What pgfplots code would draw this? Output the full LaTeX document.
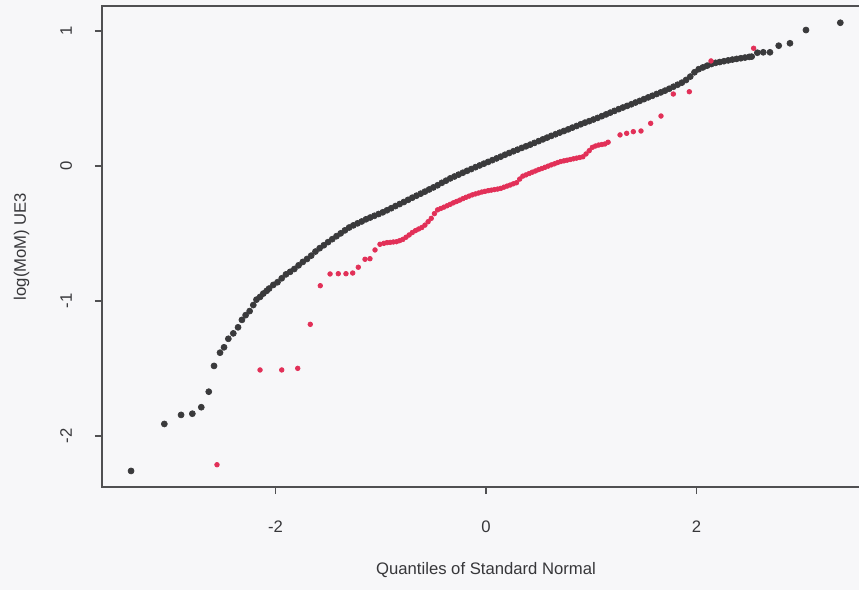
\documentclass[border=0pt]{standalone}
\usepackage{fontspec}
\setmainfont{Liberation Sans}
\usepackage{pgfplots}
\pgfplotsset{compat=1.18}
\usetikzlibrary{backgrounds}
\definecolor{ptblack}{RGB}{58,58,60}
\definecolor{ptred}{RGB}{226,48,88}
\definecolor{axgray}{RGB}{80,80,82}
\definecolor{txtgray}{RGB}{55,55,58}
\definecolor{bg}{RGB}{247,247,249}
\begin{document}
\begin{tikzpicture}
\begin{axis}[
  scale only axis,
  width=460.8pt, height=288.6pt,
  xmin=-3.647, xmax=3.647,
  ymin=-2.378, ymax=1.185,
  xtick={-2,0,2}, ytick={-2,-1,0,1},
  tick align=outside, tick pos=left,
  major tick length=4.2pt,
  axis line style={axgray, line width=0.9pt},
  every tick/.style={axgray, line width=0.9pt},
  /pgf/number format/assume math mode=true,
  ticklabel style={font=\fontsize{10}{12}\selectfont, text=txtgray},
  xticklabel style={anchor=base, inner sep=0pt, yshift=-22.8pt},
  yticklabel style={xshift=-13.8pt, anchor=base, inner sep=0pt, rotate=90},
  xlabel={Quantiles of Standard Normal},
  ylabel={log(MoM) UE3},
  label style={font=\fontsize{10}{12}\selectfont, text=txtgray},
  xlabel style={at={(axis description cs:0.5,-0.181)}, anchor=base, inner sep=0pt},
  ylabel style={at={(axis description cs:-0.099,0.5)}, anchor=base, inner sep=0pt},
  clip=false,
]
\addplot[ptblack, only marks, mark=*, mark size=1.8pt] coordinates {
(-3.371,-2.259)(-3.055,-1.911)(-2.896,-1.844)(-2.789,-1.835)(-2.704,-1.787)(-2.633,-1.672)
(-2.583,-1.481)(-2.526,-1.383)(-2.488,-1.343)(-2.447,-1.280)(-2.400,-1.240)(-2.355,-1.195)
(-2.318,-1.140)(-2.283,-1.105)(-2.245,-1.075)(-2.210,-1.030)(-2.180,-0.990)(-2.146,-0.970)
(-2.115,-0.945)(-2.083,-0.925)
(-2.06,-0.908)(-2.02,-0.881)(-1.98,-0.861)(-1.94,-0.832)(-1.90,-0.803)(-1.86,-0.784)
(-1.82,-0.763)(-1.78,-0.736)(-1.74,-0.711)(-1.70,-0.689)(-1.66,-0.664)(-1.62,-0.634)
(-1.58,-0.609)(-1.54,-0.587)(-1.50,-0.564)(-1.46,-0.542)(-1.42,-0.520)(-1.38,-0.499)
(-1.34,-0.477)(-1.30,-0.456)(-1.26,-0.440)(-1.22,-0.425)(-1.18,-0.411)(-1.14,-0.395)
(-1.10,-0.382)(-1.06,-0.369)(-1.02,-0.356)(-0.98,-0.343)(-0.94,-0.328)(-0.90,-0.313)
(-0.86,-0.297)(-0.82,-0.282)(-0.78,-0.267)(-0.74,-0.251)(-0.70,-0.235)(-0.66,-0.220)
(-0.62,-0.205)(-0.58,-0.190)(-0.54,-0.174)(-0.50,-0.159)(-0.46,-0.143)(-0.42,-0.125)
(-0.38,-0.109)(-0.34,-0.092)(-0.30,-0.078)(-0.26,-0.064)(-0.22,-0.050)(-0.18,-0.036)
(-0.14,-0.023)(-0.10,-0.009)(-0.06,0.004)(-0.02,0.017)(0.02,0.030)(0.06,0.043)
(0.10,0.056)(0.14,0.069)(0.18,0.083)(0.22,0.096)(0.26,0.109)(0.30,0.121)
(0.34,0.134)(0.38,0.146)(0.42,0.158)(0.46,0.171)(0.50,0.184)(0.54,0.197)
(0.58,0.210)(0.62,0.223)(0.66,0.235)(0.70,0.247)(0.74,0.259)(0.78,0.271)
(0.82,0.284)(0.86,0.296)(0.90,0.309)(0.94,0.321)(0.98,0.332)(1.02,0.344)
(1.06,0.356)(1.10,0.369)(1.14,0.382)(1.18,0.395)(1.22,0.408)(1.26,0.421)
(1.30,0.433)(1.34,0.445)(1.38,0.457)(1.42,0.470)(1.46,0.482)(1.50,0.495)
(1.54,0.508)(1.58,0.520)(1.62,0.533)(1.66,0.545)(1.70,0.558)(1.74,0.572)
(1.78,0.587)(1.82,0.602)(1.86,0.617)(1.90,0.637)(1.94,0.662)(1.98,0.694)
(2.02,0.717)(2.06,0.730)(2.10,0.743)(2.14,0.755)(2.18,0.764)(2.22,0.770)
(2.26,0.776)(2.30,0.782)(2.34,0.788)(2.38,0.793)(2.42,0.798)(2.46,0.803)
(2.50,0.808)
(2.523,0.810)(2.577,0.839)(2.633,0.842)(2.697,0.842)(2.780,0.891)(2.887,0.909)
(3.039,1.007)(3.365,1.061)
};
\addplot[ptred, only marks, mark=*, mark size=1.4pt] coordinates {
(-2.555,-2.213)(-2.146,-1.511)(-1.940,-1.511)(-1.788,-1.499)(-1.669,-1.173)(-1.574,-0.887)
(-1.481,-0.800)(-1.403,-0.798)(-1.330,-0.798)(-1.266,-0.793)(-1.213,-0.750)(-1.149,-0.691)
(-1.102,-0.687)(-1.054,-0.622)(-1.007,-0.580)
(-0.97,-0.573)(-0.94,-0.568)(-0.91,-0.566)(-0.88,-0.563)(-0.85,-0.561)(-0.82,-0.553)
(-0.79,-0.544)(-0.76,-0.528)(-0.73,-0.511)(-0.70,-0.493)(-0.67,-0.479)(-0.64,-0.467)
(-0.61,-0.456)(-0.58,-0.438)(-0.55,-0.413)(-0.52,-0.388)(-0.49,-0.353)(-0.46,-0.325)
(-0.43,-0.315)(-0.40,-0.305)(-0.37,-0.295)(-0.34,-0.284)(-0.31,-0.273)(-0.28,-0.263)
(-0.25,-0.253)(-0.22,-0.242)(-0.19,-0.232)(-0.16,-0.223)(-0.13,-0.214)(-0.10,-0.207)
(-0.07,-0.200)(-0.04,-0.193)(-0.01,-0.188)(0.02,-0.183)(0.05,-0.179)(0.08,-0.175)
(0.11,-0.171)(0.14,-0.166)(0.17,-0.157)(0.20,-0.149)(0.23,-0.141)(0.26,-0.132)
(0.29,-0.124)(0.32,-0.097)(0.35,-0.075)(0.38,-0.066)(0.41,-0.056)(0.44,-0.046)
(0.47,-0.037)(0.50,-0.027)(0.53,-0.019)(0.56,-0.010)(0.59,-0.001)(0.62,0.008)
(0.65,0.016)(0.68,0.025)(0.71,0.033)(0.74,0.038)(0.77,0.043)(0.80,0.048)
(0.83,0.053)(0.86,0.058)(0.89,0.063)(0.92,0.068)(0.95,0.089)(0.98,0.113)
(1.01,0.138)(1.04,0.148)(1.07,0.155)(1.10,0.159)(1.13,0.163)(1.16,0.176)
(1.273,0.230)(1.336,0.242)(1.399,0.254)(1.472,0.259)(1.564,0.316)(1.662,0.370)
(1.779,0.533)(1.931,0.550)(2.137,0.778)(2.542,0.872)
};
\coordinate (sw) at (rel axis cs:0,0);
\coordinate (ne) at (rel axis cs:1,1);
\end{axis}
\pgfresetboundingbox
\path[use as bounding box] ([xshift=-61.2pt, yshift=-61.8pt]sw) rectangle ([xshift=-6.6pt, yshift=3.6pt]ne);
\begin{pgfonlayer}{background}
\fill[bg] ([xshift=-61.2pt, yshift=-61.8pt]sw) rectangle ([xshift=-6.6pt, yshift=3.6pt]ne);
\end{pgfonlayer}
\end{tikzpicture}
\end{document}
